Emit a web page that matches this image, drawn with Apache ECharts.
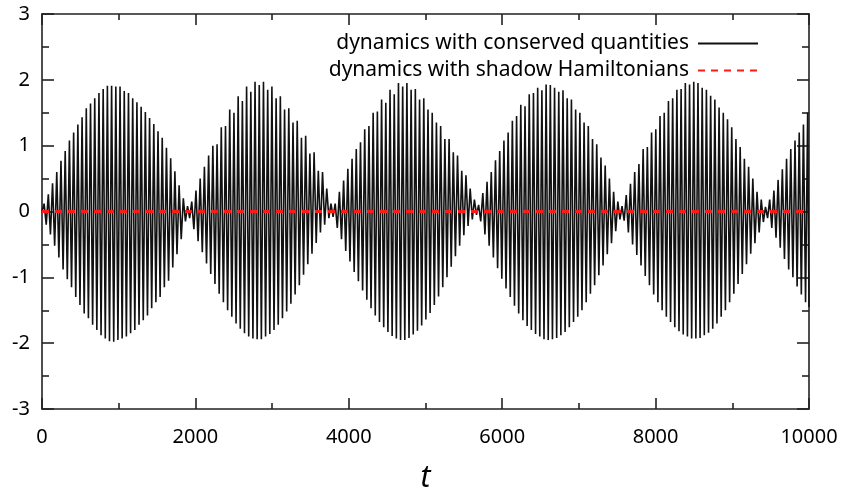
<!DOCTYPE html>
<html>
<head>
<meta charset="utf-8">
<script src="https://cdn.jsdelivr.net/npm/echarts@6/dist/echarts.min.js"></script>
<style>
html,body{margin:0;padding:0;background:#fff;}
#chart{width:845px;height:491px;}
</style>
</head>
<body>
<div id="chart"></div>
<script>
// Times of the successive extrema
const tExt = [
0,27.5,55,82.5,110,137.5,165,192.5,220,247.5,
275,302.5,330,357.5,385,412.5,440,467.5,495,522.5,
550,577.5,605,632.5,660,687.5,715,742.5,770,797.5,
825,852.5,880,907.5,935,962.5,990,1017.5,1045,1072.5,
1100,1127.5,1155,1182.5,1210,1237.5,1265,1292.5,1320,1347.5,
1375,1402.5,1430,1457.5,1485,1512.5,1540,1567.5,1595,1622.5,
1650,1677.5,1705,1732.5,1760,1787.5,1815,1842.5,1870,1897.5,
1925,1952.5,1980,2007.5,2035,2062.5,2090,2117.5,2145,2172.5,
2200,2227.5,2255,2282.5,2310,2337.5,2365,2392.5,2420,2447.5,
2475,2502.5,2530,2557.5,2585,2612.5,2640,2667.5,2695,2722.5,
2750,2777.5,2805,2832.5,2860,2887.5,2915,2942.5,2970,2997.5,
3025,3052.5,3080,3107.5,3135,3162.5,3190,3217.5,3245,3272.5,
3300,3327.5,3355,3382.5,3410,3437.5,3465,3492.5,3520,3547.5,
3575,3602.5,3630,3657.5,3685,3712.5,3740,3767.5,3795,3822.5,
3850,3877.5,3905,3932.5,3960,3987.5,4015,4042.5,4070,4097.5,
4125,4152.5,4180,4207.5,4235,4262.5,4290,4317.5,4345,4372.5,
4400,4427.5,4455,4482.5,4510,4537.5,4565,4592.5,4620,4647.5,
4675,4702.5,4730,4757.5,4785,4812.5,4840,4867.5,4895,4922.5,
4950,4977.5,5005,5032.5,5060,5087.5,5115,5142.5,5170,5197.5,
5225,5252.5,5280,5307.5,5335,5362.5,5390,5417.5,5445,5472.5,
5500,5527.5,5555,5582.5,5610,5637.5,5665,5692.5,5720,5747.5,
5775,5802.5,5830,5857.5,5885,5912.5,5940,5967.5,5995,6022.5,
6050,6077.5,6105,6132.5,6160,6187.5,6215,6242.5,6270,6297.5,
6325,6352.5,6380,6407.5,6435,6462.5,6490,6517.5,6545,6572.5,
6600,6627.5,6655,6682.5,6710,6737.5,6765,6792.5,6820,6847.5,
6875,6902.5,6930,6957.5,6985,7012.5,7040,7067.5,7095,7122.5,
7150,7177.5,7205,7232.5,7260,7287.5,7315,7342.5,7370,7397.5,
7425,7452.5,7480,7507.5,7535,7562.5,7590,7617.5,7645,7672.5,
7700,7727.5,7755,7782.5,7810,7837.5,7865,7892.5,7920,7947.5,
7975,8002.5,8030,8057.5,8085,8112.5,8140,8167.5,8195,8222.5,
8250,8277.5,8305,8332.5,8360,8387.5,8415,8442.5,8470,8497.5,
8525,8552.5,8580,8607.5,8635,8662.5,8690,8717.5,8745,8772.5,
8800,8827.5,8855,8882.5,8910,8937.5,8965,8992.5,9020,9047.5,
9075,9102.5,9130,9157.5,9185,9212.5,9240,9267.5,9295,9322.5,
9350,9377.5,9405,9432.5,9460,9487.5,9515,9542.5,9570,9597.5,
9625,9652.5,9680,9707.5,9735,9762.5,9790,9817.5,9845,9872.5,
9900,9927.5,9955,9982.5,10000
];

// Extrema values of "dynamics with conserved quantities", beat by beat
const beat1 = [
0,0.12,-0.2,0.26,-0.35,0.43,-0.52,0.6,-0.7,0.77,
-0.88,0.92,-1.03,1.08,-1.15,1.2,-1.3,1.32,-1.42,1.43,
-1.55,1.57,-1.62,1.64,-1.72,1.72,-1.8,1.8,-1.88,1.86,
-1.93,1.91,-1.97,1.91,-1.98,1.9,-1.95,1.9,-1.93,1.83,
-1.9,1.8,-1.85,1.72,-1.8,1.66,-1.72,1.59,-1.65,1.51,
-1.58,1.42,-1.47,1.33,-1.38,1.22,-1.3,1.12,-1.15,0.97,
-1.05,0.81,-0.85,0.61,-0.65,0.4,-0.42,0.2,-0.15,0.08
];
const beat2 = [
-0.1,0.15,-0.27,0.32,-0.45,0.5,-0.62,0.68,-0.79,0.85,
-0.95,1.0,-1.1,1.02,-1.25,1.28,-1.38,1.3,-1.5,1.55,
-1.6,1.5,-1.7,1.75,-1.78,1.68,-1.85,1.9,-1.9,1.82,
-1.93,1.97,-1.94,1.92,-1.94,1.97,-1.9,1.85,-1.86,1.9,
-1.8,1.72,-1.72,1.75,-1.62,1.55,-1.52,1.57,-1.4,1.35,
-1.26,1.38,-1.12,1.12,-0.96,1.15,-0.8,0.88,-0.64,0.9,
-0.48,0.62,-0.32,0.6,-0.2,0.35,-0.1,0.12
];
const beat3 = [
-0.08,0.12,-0.25,0.3,-0.42,0.47,-0.6,0.65,-0.76,0.8,
-0.92,0.95,-1.06,1.05,-1.2,1.25,-1.34,1.3,-1.47,1.5,
-1.58,1.52,-1.68,1.7,-1.76,1.65,-1.83,1.85,-1.89,1.78,
-1.93,1.95,-1.95,1.9,-1.95,1.95,-1.92,1.85,-1.87,1.86,
-1.81,1.7,-1.73,1.72,-1.64,1.55,-1.54,1.5,-1.42,1.35,
-1.29,1.3,-1.15,1.1,-1.0,1.1,-0.84,0.9,-0.68,0.85,
-0.52,0.62,-0.36,0.55,-0.22,0.35,-0.12,0.18,-0.05
];
const beat4 = [
0.1,-0.15,0.28,-0.35,0.45,-0.52,0.6,-0.7,0.78,-0.86,
0.92,-1.02,1.08,-1.17,1.2,-1.3,1.38,-1.43,1.45,-1.55,
1.62,-1.65,1.6,-1.74,1.78,-1.8,1.8,-1.86,1.88,-1.9,
1.84,-1.94,1.93,-1.95,1.92,-1.94,1.88,-1.92,1.82,-1.88,
1.84,-1.83,1.72,-1.76,1.7,-1.68,1.55,-1.6,1.5,-1.5,
1.35,-1.38,1.3,-1.25,1.1,-1.12,1.02,-0.97,0.82,-0.82,
0.7,-0.65,0.5,-0.48,0.3,-0.3,0.15,-0.12
];
const beat5 = [
0.08,-0.14,0.25,-0.32,0.42,-0.5,0.6,-0.66,0.72,-0.82,
0.95,-0.98,0.98,-1.12,1.2,-1.26,1.25,-1.38,1.45,-1.5,
1.5,-1.6,1.68,-1.68,1.72,-1.76,1.85,-1.82,1.86,-1.87,
1.95,-1.9,1.93,-1.93,1.97,-1.93,1.95,-1.92,1.88,-1.88,
1.85,-1.84,1.76,-1.78,1.7,-1.7,1.58,-1.6,1.5,-1.5,
1.4,-1.38,1.28,-1.25,1.1,-1.1,0.98,-0.95,0.8,-0.8,
0.68,-0.64,0.5,-0.48,0.3,-0.32,0.18,-0.16,0.07
];
const beat6 = [
-0.1,0.18,-0.25,0.32,-0.4,0.48,-0.55,0.64,-0.72,0.8,
-0.88,0.95,-1.0,1.08,-1.14,1.2,-1.26,1.32,-1.38,1.5,
-1.45
];

// "dynamics with shadow Hamiltonians" (stays at zero)
const shadowT = [0, 10000];
const shadowY = [0, 0];

const seriesNames = ['dynamics with conserved quantities', 'dynamics with shadow Hamiltonians'];
const xTicks = { min: 0, max: 10000, step: 2000 };
const yTicks = { min: -3, max: 3, step: 1 };

const yExt = beat1.concat(beat2, beat3, beat4, beat5, beat6);
const conservedData = tExt.map((t, i) => [t, yExt[i]]);
const shadowData = shadowT.map((t, i) => [t, shadowY[i]]);

const FONT = 'Noto Sans';
const AX = '#222';

function xAxisCfg(pos, labels) {
  return {
    type: 'value', position: pos, min: xTicks.min, max: xTicks.max, interval: xTicks.step,
    axisLine: { show: true, onZero: false, lineStyle: { color: AX, width: 1.6 } },
    axisTick: { show: true, inside: true, length: 11, lineStyle: { color: AX, width: 1.6 } },
    minorTick: { show: true, splitNumber: 2, length: 6, lineStyle: { color: AX, width: 1.6 } },
    splitLine: { show: false },
    axisLabel: { show: labels, margin: 18, fontSize: 20, fontFamily: FONT, color: '#000',
      formatter: v => String(v) },
    name: labels ? 't' : '', nameLocation: 'middle', nameGap: 54,
    nameTextStyle: { fontSize: 30, fontStyle: 'italic', fontFamily: FONT, color: '#000' }
  };
}
function yAxisCfg(pos, labels) {
  return {
    type: 'value', position: pos, min: yTicks.min, max: yTicks.max, interval: yTicks.step,
    axisLine: { show: true, onZero: false, lineStyle: { color: AX, width: 1.6 } },
    axisTick: { show: true, inside: true, length: 12, lineStyle: { color: AX, width: 1.6 } },
    minorTick: { show: true, splitNumber: 2, length: 7, lineStyle: { color: AX, width: 1.6 } },
    splitLine: { show: false },
    axisLabel: { show: labels, margin: 12, fontSize: 20, fontFamily: FONT, color: '#000',
      formatter: v => String(v) }
  };
}

const chart = echarts.init(document.getElementById('chart'), null, { renderer: 'canvas' });
chart.setOption({
  animation: false,
  backgroundColor: '#fff',
  grid: { left: 42, right: 36, top: 14, bottom: 82, containLabel: false, outerBoundsMode: 'none' },
  xAxis: [xAxisCfg('bottom', true), xAxisCfg('top', false)],
  yAxis: [yAxisCfg('left', true), yAxisCfg('right', false)],
  legend: {
    orient: 'vertical', align: 'right', right: 81, top: 28,
    itemWidth: 60, itemHeight: 14, itemGap: 6,
    itemStyle: { opacity: 0 },
    textStyle: { fontSize: 21, fontFamily: FONT, color: '#000', padding: [0, 4, 0, 0] },
    data: seriesNames
  },
  series: [
    {
      name: seriesNames[0], type: 'line', data: conservedData,
      symbol: 'none', smooth: false, clip: true,
      lineStyle: { color: '#111', width: 1.6 }, itemStyle: { color: '#111' }, z: 2
    },
    {
      name: seriesNames[1], type: 'line', data: shadowData,
      symbol: 'none', clip: true,
      lineStyle: { color: '#ff1a1a', width: 3, type: [7, 6] }, itemStyle: { color: '#ff1a1a' }, z: 3
    }
  ]
});
</script>
</body>
</html>
